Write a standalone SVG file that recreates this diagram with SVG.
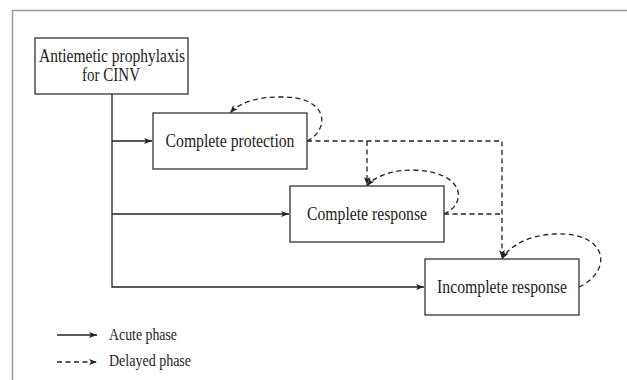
<svg xmlns="http://www.w3.org/2000/svg" width="627" height="380" viewBox="0 0 627 380">
<style>
.box{fill:#fff;stroke:#333;stroke-width:1.3}
.t{font-family:"Liberation Serif","Times New Roman",serif;font-size:18.5px;fill:#222;text-anchor:middle}
.lt{font-family:"Liberation Serif","Times New Roman",serif;font-size:16px;fill:#222}
.s{fill:none;stroke:#222;stroke-width:1.3}
.d{fill:none;stroke:#222;stroke-width:1.3;stroke-dasharray:5 3.5}
</style>
<defs>
<marker id="ah" markerUnits="userSpaceOnUse" markerWidth="9" markerHeight="7" refX="8" refY="3" orient="auto">
<path d="M0,0 L8,3 L0,6 L2,3 z" fill="#222"/>
</marker>
</defs>
<path d="M12.5,380 V10.5 H627" fill="none" stroke="#999" stroke-width="1.5"/>
<g id="connectors">
<path class="s" d="M112,94 V287 H424" marker-end="url(#ah)"/>
<path class="s" d="M112,141 H152" marker-end="url(#ah)"/>
<path class="s" d="M112,214 H289" marker-end="url(#ah)"/>
<path class="d" d="M307,141 H502 V258" marker-end="url(#ah)"/>
<path class="d" d="M367,141 V185" marker-end="url(#ah)"/>
<path class="d" d="M444,214 H502"/>
<path class="d" d="M307,141 C330,130 330,96 280,97 C258,97 240,102 230,113" marker-end="url(#ah)"/>
<path class="d" d="M444,214 C466,205 468,172 413,170 C392,170 375,176 367,186" marker-end="url(#ah)"/>
<path class="d" d="M579,287 C612,272 610,232 555,234 C530,235 510,245 502,259" marker-end="url(#ah)"/>
</g>
<g id="n1">
<rect class="box" x="35" y="38" width="153" height="56"/>
<text class="t" x="112" y="62" textLength="146" lengthAdjust="spacingAndGlyphs">Antiemetic prophylaxis</text>
<text class="t" x="111" y="81" textLength="58" lengthAdjust="spacingAndGlyphs">for CINV</text>
</g>
<g id="n2">
<rect class="box" x="153" y="113" width="154" height="56"/>
<text class="t" x="230" y="147" textLength="129" lengthAdjust="spacingAndGlyphs">Complete protection</text>
</g>
<g id="n3">
<rect class="box" x="290" y="186" width="154" height="56"/>
<text class="t" x="367" y="220" textLength="120" lengthAdjust="spacingAndGlyphs">Complete response</text>
</g>
<g id="n4">
<rect class="box" x="425" y="259" width="154" height="56"/>
<text class="t" x="502" y="293" textLength="130" lengthAdjust="spacingAndGlyphs">Incomplete response</text>
</g>
<g id="legend">
<path class="s" d="M57,335 H97" marker-end="url(#ah)"/>
<path class="d" d="M57,362 H97" marker-end="url(#ah)"/>
<text class="lt" x="109" y="340" textLength="68" lengthAdjust="spacingAndGlyphs">Acute phase</text>
<text class="lt" x="109" y="366" textLength="82" lengthAdjust="spacingAndGlyphs">Delayed phase</text>
</g>
</svg>
